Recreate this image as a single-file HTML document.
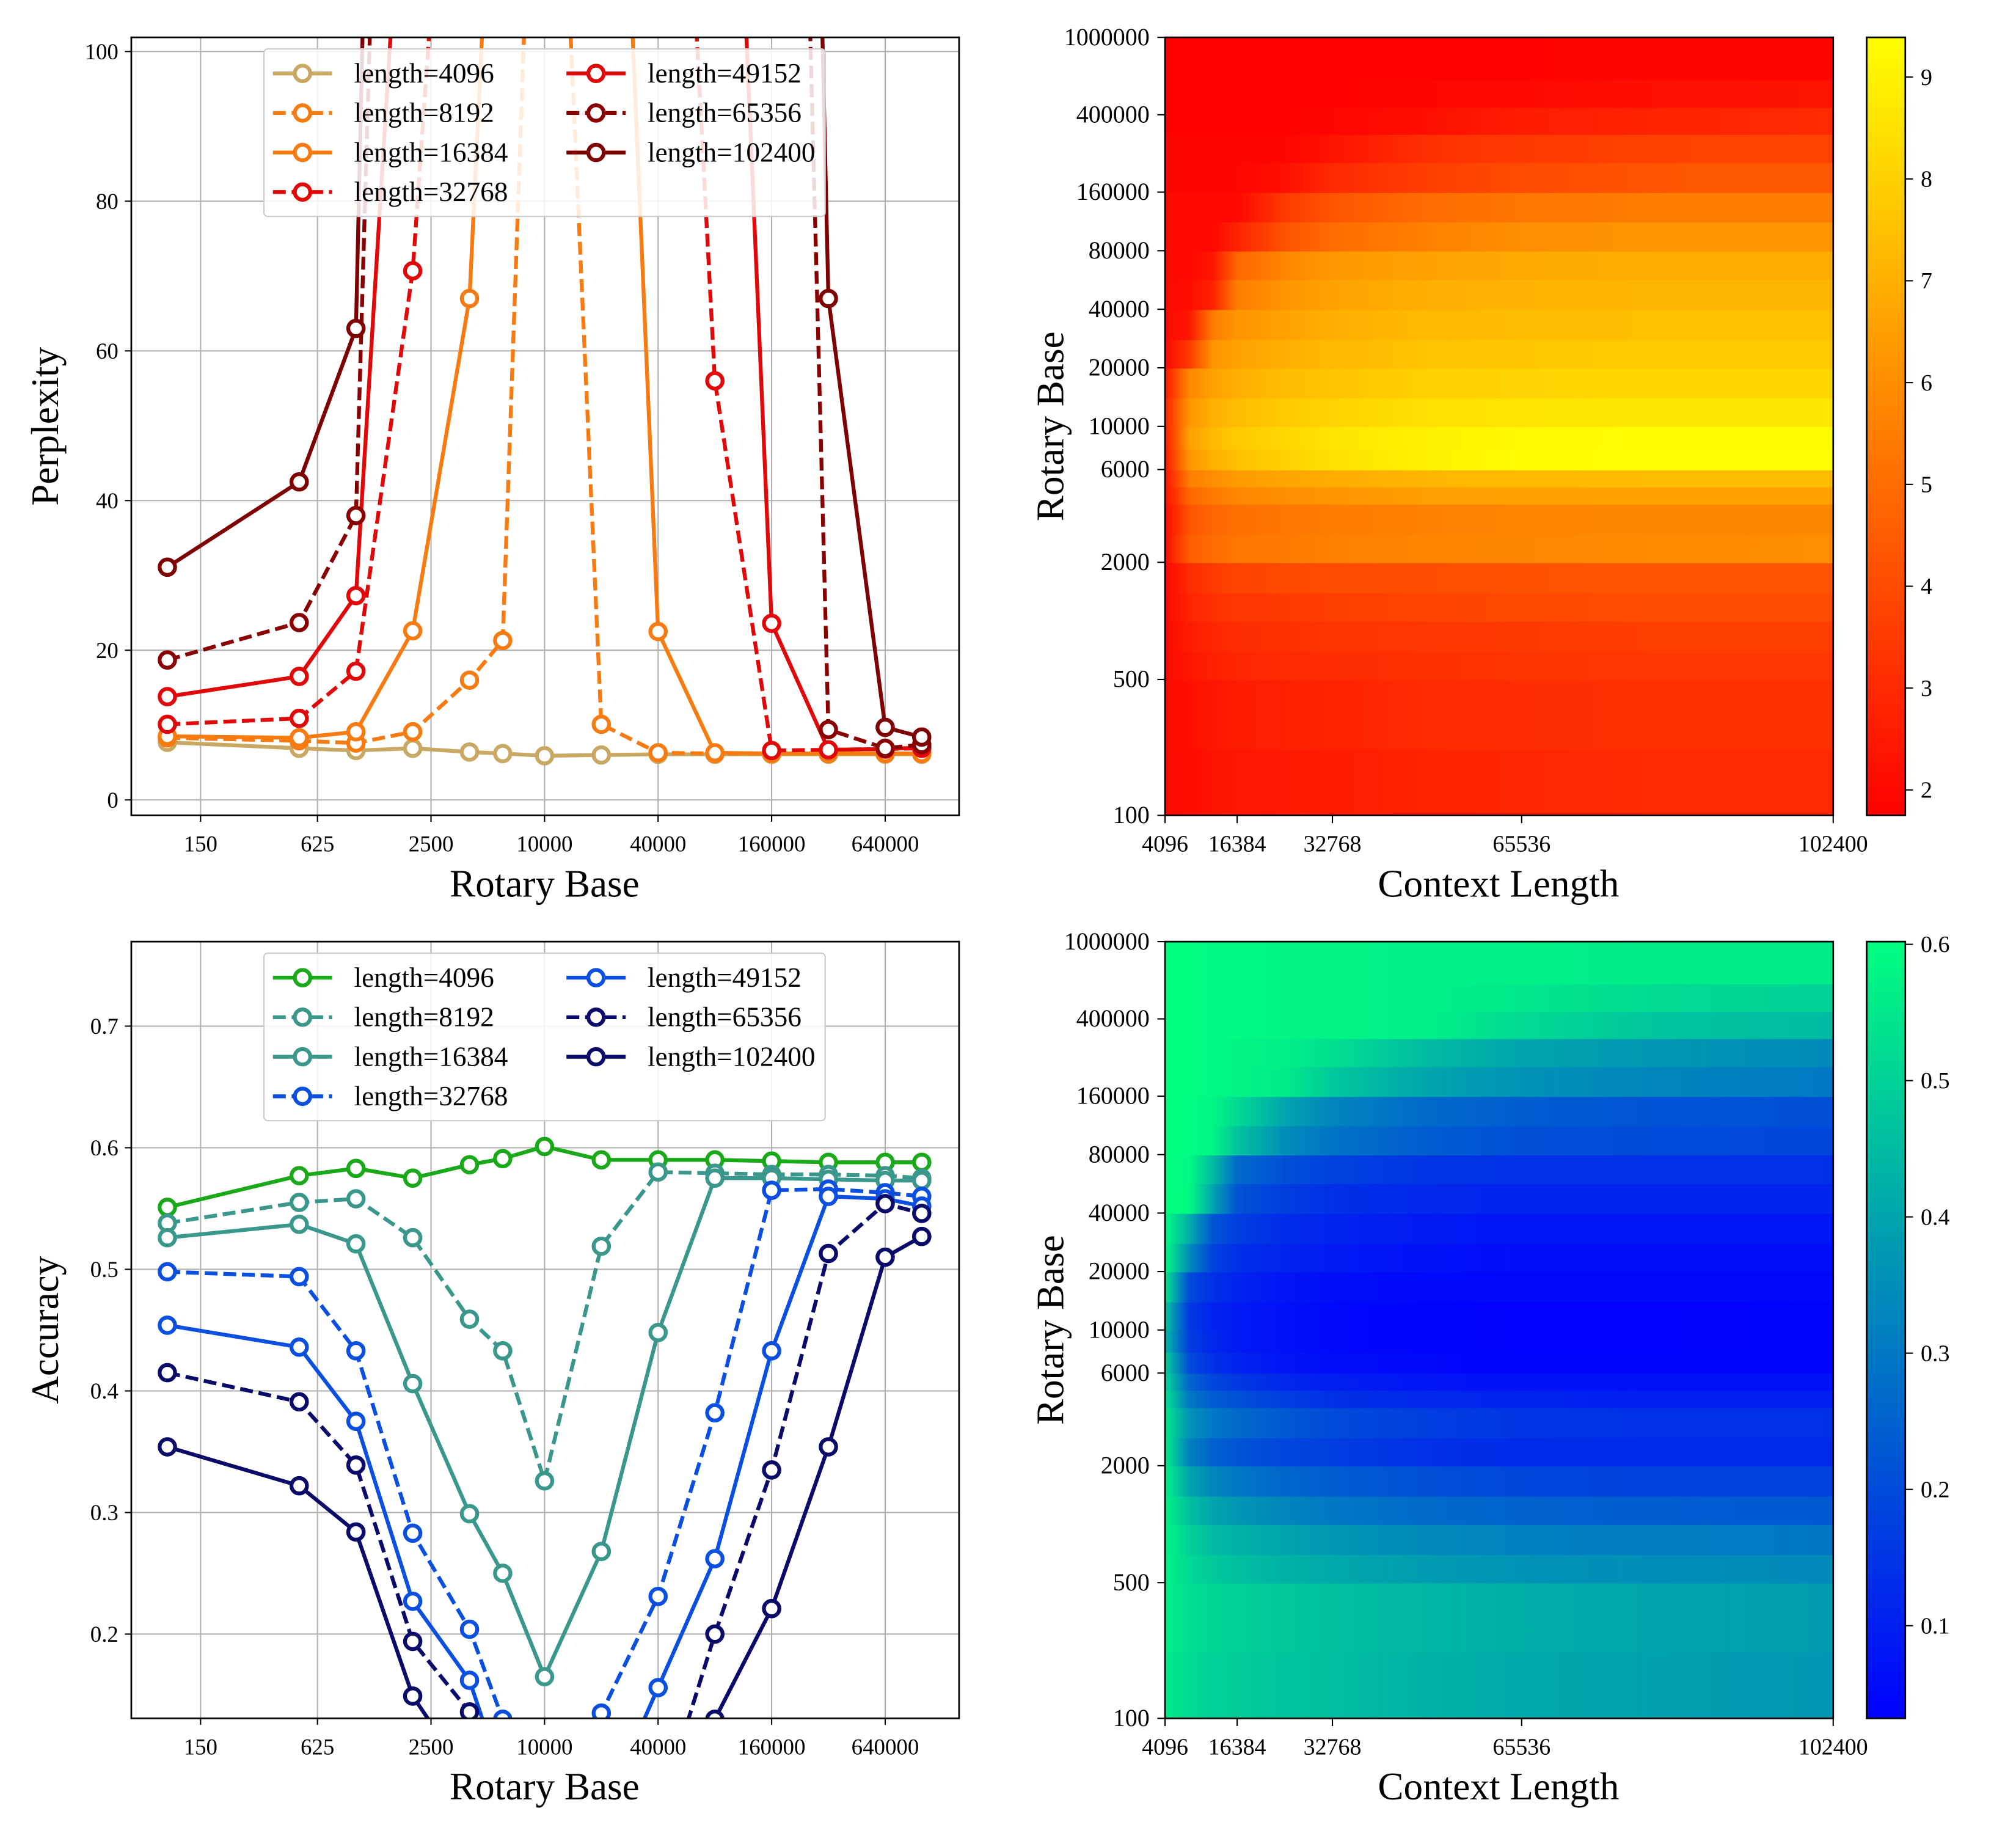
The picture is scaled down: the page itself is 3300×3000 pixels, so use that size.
<!DOCTYPE html>
<html><head><meta charset="utf-8"><style>
html,body{margin:0;padding:0;background:#fff}
svg{display:block;font-family:"Liberation Serif",serif}
</style></head><body>
<svg id="fig" width="3300" height="3000" viewBox="0 0 1566 1423" preserveAspectRatio="none" xmlns="http://www.w3.org/2000/svg">
<defs id="defs"></defs>
</svg>
<script>
// ---------- data ----------
const bases = [100,500,1000,2000,4000,6000,10000,20000,40000,80000,160000,320000,640000,1000000];
const xTickLabels = [150,625,2500,10000,40000,160000,640000];
const seriesNames = ['length=4096','length=8192','length=16384','length=32768','length=49152','length=65356','length=102400'];
const pplTicks = [0,20,40,60,80,100];
const ppl4096 = [7.7,6.9,6.6,6.9,6.4,6.2,5.9,6.0,6.1,6.1,6.1,6.1,6.1,6.1];
const ppl8192 = [8.3,7.9,7.6,9.1,16,21.3,180,10.1,6.3,6.2,6.2,6.2,6.2,6.2];
const ppl16384 = [8.5,8.3,9.1,22.6,67,160,200,200,22.5,6.3,6.2,6.2,6.2,6.2];
const ppl32768 = [10.1,10.9,17.2,70.7,180,200,200,200,200,56,6.6,6.7,6.8,6.9];
const ppl49152 = [13.8,16.5,27.3,150,200,200,200,200,200,200,23.6,6.7,6.8,7.0];
const ppl65356 = [18.7,23.7,38,300,300,300,300,300,300,300,300,9.4,6.9,7.4];
const ppl102400 = [31.1,42.5,63,400,400,400,400,400,400,400,400,67,9.7,8.4];
const accTicks = [0.2,0.3,0.4,0.5,0.6,0.7];
const acc4096 = [0.551,0.577,0.583,0.575,0.586,0.591,0.601,0.590,0.590,0.590,0.589,0.588,0.588,0.588];
const acc8192 = [0.538,0.555,0.558,0.526,0.459,0.433,0.326,0.519,0.580,0.579,0.578,0.578,0.577,0.575];
const acc16384 = [0.526,0.537,0.521,0.406,0.299,0.250,0.165,0.268,0.448,0.575,0.575,0.574,0.573,0.573];
const acc32768 = [0.498,0.494,0.433,0.283,0.204,0.130,0.06,0.135,0.231,0.382,0.565,0.566,0.563,0.560];
const acc49152 = [0.454,0.436,0.375,0.227,0.162,0.08,0.05,0.05,0.156,0.262,0.433,0.560,0.558,0.552];
const acc65356 = [0.415,0.391,0.339,0.194,0.136,0.05,0.05,0.05,0.05,0.200,0.335,0.513,0.554,0.546];
const acc102400 = [0.354,0.322,0.284,0.149,0.08,0.05,0.05,0.05,0.05,0.130,0.221,0.354,0.510,0.527];
// heatmap
const hmCols = [4096,8192,12288,16384,24576,32768,49152,65536,81920,102400];
const hmXTicks = [4096,16384,32768,65536,102400];
const hmYTicks = [100,500,2000,6000,10000,20000,40000,80000,160000,400000,1000000];
const hmRowEdges = [100,220,500,700,1000,1400,2000,2800,4000,4900,6000,7700,10000,14000,20000,28000,40000,57000,80000,113000,160000,228000,318000,438000,608000,1000000];
const pplGrid = [
[2.0,2.1,2.3,2.4,2.5,2.6,2.8,2.9,3.0,3.0],
[2.0,2.2,2.4,2.6,2.7,2.8,3.0,3.1,3.2,3.2],
[2.0,2.4,2.7,2.9,3.0,3.1,3.2,3.3,3.4,3.4],
[2.0,2.6,2.9,3.1,3.2,3.3,3.4,3.5,3.6,3.6],
[2.0,2.8,3.2,3.4,3.5,3.6,3.8,3.9,4.0,4.0],
[2.0,3.0,3.5,3.8,3.9,4.0,4.1,4.2,4.3,4.3],
[2.1,4.5,5.0,5.3,5.4,5.6,5.7,5.8,5.9,6.0],
[2.1,4.2,4.8,5.1,5.3,5.5,5.6,5.7,5.8,5.8],
[2.2,4.8,5.4,5.8,6.0,6.2,6.5,6.6,6.6,6.6],
[2.3,5.5,6.0,6.4,6.7,6.9,7.2,7.3,7.4,7.4],
[2.4,6.2,7.0,7.5,8.0,8.5,9.0,9.3,9.4,9.4],
[2.6,6.5,7.3,7.8,8.2,8.6,9.0,9.2,9.3,9.3],
[2.8,6.2,7.0,7.4,7.8,8.1,8.5,8.6,8.7,8.7],
[2.5,5.8,6.6,7.0,7.4,7.6,8.0,8.1,8.2,8.2],
[2.0,3.5,6.2,6.6,7.0,7.3,7.6,7.7,7.8,7.8],
[2.0,2.4,5.5,6.2,6.6,7.0,7.3,7.4,7.5,7.5],
[2.0,2.1,2.8,5.5,6.2,6.6,7.0,7.1,7.2,7.2],
[2.0,2.0,2.4,4.8,5.8,6.3,6.6,6.8,6.9,6.9],
[2.0,2.0,2.0,2.8,4.2,5.0,5.6,6.0,6.2,6.2],
[2.0,2.0,2.0,2.0,3.5,4.3,5.0,5.3,5.5,5.5],
[1.9,1.9,1.9,1.9,2.2,3.0,3.6,4.0,4.3,4.4],
[1.9,1.9,1.9,1.9,1.9,2.3,3.2,3.5,3.7,3.8],
[1.8,1.8,1.8,1.8,1.8,1.9,2.2,2.6,2.8,3.0],
[1.8,1.8,1.8,1.8,1.8,1.8,1.9,2.0,2.2,2.3],
[1.8,1.8,1.8,1.8,1.8,1.8,1.8,1.8,1.9,1.9]];
const accGrid = [
[0.56,0.52,0.50,0.49,0.47,0.46,0.43,0.41,0.39,0.37],
[0.57,0.53,0.51,0.50,0.48,0.46,0.44,0.42,0.40,0.38],
[0.58,0.52,0.48,0.46,0.43,0.41,0.38,0.36,0.35,0.34],
[0.58,0.50,0.45,0.43,0.40,0.37,0.34,0.32,0.31,0.30],
[0.58,0.46,0.40,0.37,0.33,0.30,0.27,0.25,0.24,0.23],
[0.57,0.40,0.33,0.30,0.26,0.24,0.21,0.19,0.18,0.18],
[0.56,0.32,0.25,0.22,0.19,0.17,0.14,0.13,0.13,0.13],
[0.55,0.36,0.30,0.27,0.23,0.20,0.17,0.15,0.14,0.14],
[0.54,0.30,0.24,0.21,0.17,0.14,0.12,0.11,0.10,0.10],
[0.52,0.26,0.19,0.16,0.12,0.10,0.08,0.07,0.07,0.07],
[0.50,0.20,0.14,0.11,0.08,0.06,0.05,0.04,0.04,0.04],
[0.45,0.17,0.12,0.09,0.07,0.05,0.04,0.035,0.035,0.04],
[0.48,0.16,0.11,0.09,0.07,0.05,0.04,0.035,0.035,0.04],
[0.55,0.20,0.14,0.11,0.08,0.06,0.05,0.05,0.05,0.05],
[0.59,0.35,0.18,0.14,0.11,0.09,0.07,0.06,0.06,0.06],
[0.60,0.42,0.22,0.17,0.13,0.11,0.09,0.08,0.08,0.08],
[0.60,0.59,0.40,0.22,0.17,0.14,0.12,0.11,0.11,0.11],
[0.60,0.59,0.45,0.27,0.21,0.18,0.15,0.14,0.14,0.14],
[0.60,0.60,0.58,0.47,0.35,0.29,0.24,0.21,0.20,0.19],
[0.60,0.60,0.58,0.52,0.40,0.33,0.27,0.24,0.22,0.21],
[0.60,0.60,0.59,0.58,0.56,0.48,0.40,0.36,0.33,0.30],
[0.60,0.60,0.59,0.58,0.57,0.53,0.45,0.40,0.37,0.34],
[0.60,0.60,0.59,0.59,0.58,0.58,0.57,0.52,0.47,0.45],
[0.60,0.60,0.59,0.59,0.58,0.58,0.57,0.55,0.52,0.50],
[0.60,0.60,0.59,0.59,0.58,0.58,0.57,0.57,0.56,0.56]];
const pplCbTicks = [2,3,4,5,6,7,8,9];
const accCbTicks = [0.1,0.2,0.3,0.4,0.5,0.6];

// ---------- helpers ----------
const NS='http://www.w3.org/2000/svg';
const svg=document.getElementById('fig');
const defs=document.getElementById('defs');
function mk(tag,attrs,parent){const e=document.createElementNS(NS,tag);for(const k in attrs)e.setAttribute(k,attrs[k]);(parent||svg).appendChild(e);return e;}
function txt(s,attrs,parent){const e=mk('text',attrs,parent);e.textContent=s;return e;}

const lxScale=v=>423+88.2*Math.log(v/10000)/Math.log(4);
const LW=3, MR=6;

function linePlot(id,top,bottom,yOf,yTicks,yFmt,series,colors,dashes,ylabel){
  const L=102,R=745;
  const g=mk('g',{});
  
  
  const cp=mk('clipPath',{id:id+'-clip'},defs);
  mk('rect',{x:L,y:top,width:R-L,height:bottom-top},cp);
  xTickLabels.forEach(t=>{const x=lxScale(t);
    const l=mk('line',{x1:x,x2:x,y1:top,y2:bottom,stroke:'#b0b0b0','stroke-width':1},g);
    
    mk('line',{x1:x,x2:x,y1:bottom,y2:bottom+5,stroke:'#000','stroke-width':1},g);
    const tl=txt(String(t),{x:x,y:bottom+28,'font-size':17.5,'text-anchor':'middle'},g);
    });
  yTicks.forEach(t=>{const y=yOf(t);
    const l=mk('line',{x1:L,x2:R,y1:y,y2:y,stroke:'#b0b0b0','stroke-width':1},g);
    
    mk('line',{x1:L-5,x2:L,y1:y,y2:y,stroke:'#000','stroke-width':1},g);
    const tl=txt(yFmt(t),{x:L-10,y:y+6,'font-size':17.5,'text-anchor':'end'},g);
    });
  const sg=mk('g',{'clip-path':'url(#'+id+'-clip)'},g);
  series.forEach((vals,i)=>{
    const pts=vals.map((v,j)=>[lxScale(bases[j]),yOf(v)]);
    const pl=mk('polyline',{points:pts.map(p=>p.join(',')).join(' '),fill:'none',stroke:colors[i],'stroke-width':LW,'stroke-dasharray':dashes[i]?'10,4.5':'none','stroke-linejoin':'round'},sg);
    
    
    pts.forEach(p=>{const c=mk('circle',{cx:p[0],cy:p[1],r:MR,fill:'#fff',stroke:colors[i],'stroke-width':LW},sg);
      });
  });
  const fr=mk('rect',{x:L,y:top,width:R-L,height:bottom-top,fill:'none',stroke:'#000','stroke-width':1.3},g);
  
  const xl=txt('Rotary Base',{x:423,y:bottom+63,'font-size':30,'text-anchor':'middle'},g);
  
  const cy=(top+bottom)/2;
  const yl=txt(ylabel,{x:45,y:cy,'font-size':30,'text-anchor':'middle',transform:'rotate(-90 45 '+cy+')'},g);
  
  const ly=top+9;
  const lg=mk('g',{},g);
  
  mk('rect',{x:205,y:ly,width:436,height:130,rx:3,fill:'#fff','fill-opacity':0.85,stroke:'#ccc','stroke-width':1},lg);
  series.forEach((v,i)=>{
    const col=i<4?0:1,row=i<4?i:i-4;
    const x0=col?440:212,y=ly+19+row*30.7;
    const e=mk('g',{},lg);
    
    mk('line',{x1:x0,x2:x0+46,y1:y,y2:y,stroke:colors[i],'stroke-width':LW,'stroke-dasharray':dashes[i]?'10,4.5':'none'},e);
    mk('circle',{cx:x0+23,cy:y,r:MR,fill:'#fff',stroke:colors[i],'stroke-width':LW},e);
    txt(seriesNames[i],{x:x0+63,y:y+7,'font-size':21.5},e);
  });
}

const pplY=v=>621-5.81*v;
linePlot('perplexity',29,633,pplY,pplTicks,t=>String(t),
  [ppl4096,ppl8192,ppl16384,ppl32768,ppl49152,ppl65356,ppl102400],
  ['#c8a862','#f77b10','#f77b10','#e00808','#e00808','#8a0000','#7e0000'],
  [0,1,0,1,0,1,0],'Perplexity');
const accY=v=>891-944*(v-0.6);
linePlot('accuracy',731,1334,accY,accTicks,t=>t.toFixed(1),
  [acc4096,acc8192,acc16384,acc32768,acc49152,acc65356,acc102400],
  ['#19a919','#3a978c','#3a978c','#0b4fe0','#0b4fe0','#0a0a6a','#0a0a6a'],
  [0,1,0,1,0,1,0],'Accuracy');

// ---------- heatmaps ----------
const hxKnots=[[4096,905],[16384,961],[32768,1035],[65536,1182],[102400,1424]];
function hx(v){for(let i=0;i<hxKnots.length-1;i++){const a=hxKnots[i],b=hxKnots[i+1];if(v<=b[0]||i==hxKnots.length-2)return a[1]+(v-a[0])*(b[1]-a[1])/(b[0]-a[0]);}}
function autumn(t){t=Math.max(0,Math.min(1,t));return 'rgb(255,'+Math.round(255*t)+',0)';}
function winter(t){t=Math.max(0,Math.min(1,t));return 'rgb(0,'+Math.round(255*t)+','+Math.round(255*(1-0.5*t))+')';}

function heatmap(id,top,bottom,grid,vmin,vmax,cmap,cbTicks,cbFmt){
  const L=905,R=1424;
  const hy=v=>bottom-(bottom-top)*(Math.log10(v)-2)/4;
  const g=mk('g',{});
  
  grid.forEach((row,r)=>{
    const gid=id+'-grad-'+r;
    const lgd=mk('linearGradient',{id:gid,gradientUnits:'userSpaceOnUse',x1:L,x2:R,y1:0,y2:0},defs);
    row.forEach((v,c)=>{mk('stop',{offset:((hx(hmCols[c])-L)/(R-L)).toFixed(4),'stop-color':cmap((v-vmin)/(vmax-vmin))},lgd);});
    const y1=hy(hmRowEdges[r+1]),y0=hy(hmRowEdges[r]);
    const rc=mk('rect',{x:L,y:y1,width:R-L,height:y0-y1+0.6,fill:'url(#'+gid+')'},g);
    
  });
  const fr=mk('rect',{x:L,y:top,width:R-L,height:bottom-top,fill:'none',stroke:'#000','stroke-width':1.3},g);
  
  hmYTicks.forEach(t=>{const y=hy(t);
    mk('line',{x1:L-6,x2:L,y1:y,y2:y,stroke:'#000','stroke-width':1},g);
    const tl=txt(String(t),{x:L-12,y:y+6,'font-size':19,'text-anchor':'end'},g);
    });
  hmXTicks.forEach(t=>{const x=hx(t);
    mk('line',{x1:x,x2:x,y1:bottom,y2:bottom+6,stroke:'#000','stroke-width':1},g);
    const tl=txt(String(t),{x:x,y:bottom+28,'font-size':18,'text-anchor':'middle'},g);
    });
  const xl=txt('Context Length',{x:1164,y:bottom+63,'font-size':30,'text-anchor':'middle'},g);
  
  const cy=(top+bottom)/2;
  const yl=txt('Rotary Base',{x:826,y:cy,'font-size':30,'text-anchor':'middle',transform:'rotate(-90 826 '+cy+')'},g);
  
  const cb=mk('g',{},g);
  
  const cg=mk('linearGradient',{id:id+'-cb',x1:0,x2:0,y1:1,y2:0},defs);
  for(let i=0;i<=10;i++)mk('stop',{offset:i/10,'stop-color':cmap(i/10)},cg);
  mk('rect',{x:1450,y:top,width:30,height:bottom-top,fill:'url(#'+id+'-cb)',stroke:'#000','stroke-width':1.3},cb);
  cbTicks.forEach(t=>{const y=bottom-(bottom-top)*(t-vmin)/(vmax-vmin);
    mk('line',{x1:1480,x2:1486,y1:y,y2:y,stroke:'#000','stroke-width':1},cb);
    const tl=txt(cbFmt(t),{x:1492,y:y+6,'font-size':18},cb);
    });
}
heatmap('perplexity',29,633,pplGrid,1.75,9.39,autumn,pplCbTicks,t=>String(t));
heatmap('accuracy',731,1334,accGrid,0.032,0.602,winter,accCbTicks,t=>t.toFixed(1));
</script>
</body></html>
